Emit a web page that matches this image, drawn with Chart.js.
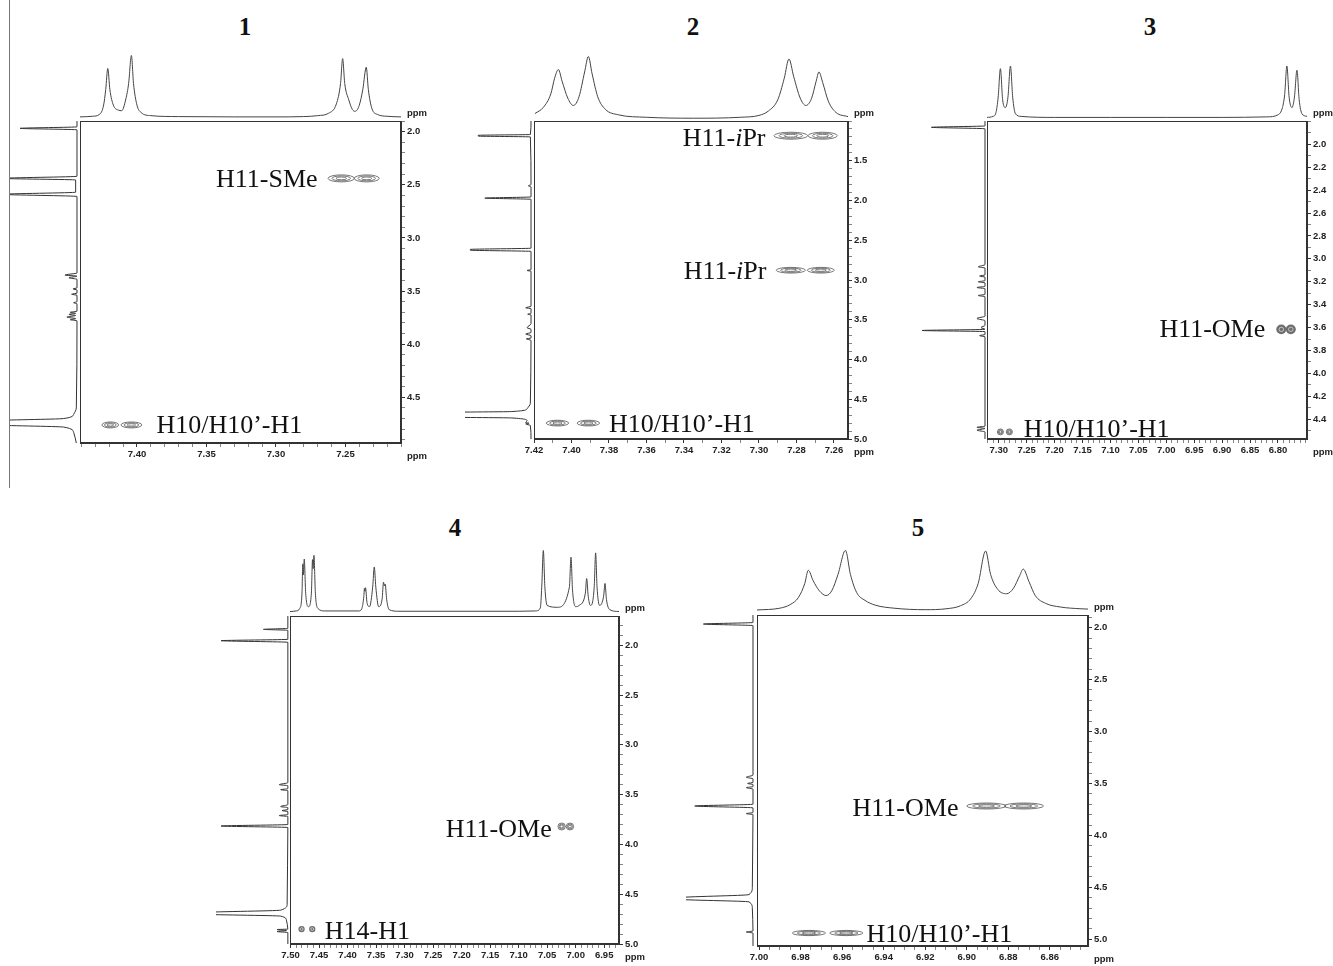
<!DOCTYPE html>
<html>
<head>
<meta charset="utf-8">
<script src="https://cdn.jsdelivr.net/npm/chart.js@4.4.1/dist/chart.umd.min.js"></script>
<style>
  body{margin:0;background:#fff;width:1333px;height:966px;overflow:hidden;position:relative}
  canvas{position:absolute}
  .num{position:absolute;font:bold 25px "Liberation Serif","Times New Roman",serif;color:#111;transform:translate(-50%,-50%)}
  #rule{position:absolute;left:9px;top:0;width:1px;height:488px;background:#777}
</style>
</head>
<body>
<div id="rule"></div>
<script>
const titles = ['1', '2', '3', '4', '5'];
const unit = 'ppm';

// ---- 1 ----
const p1X = [7.210, 7.441];
const p1Y = [1.90, 4.93];
const p1XLabels = [7.40, 7.35, 7.30, 7.25];
const p1YLabels = [2.0, 2.5, 3.0, 3.5, 4.0, 4.5];
const p1Minor = [0.01, 0.1];
const p1Top = [[7.441,0.01],[7.432,0.02],[7.427,0.05],[7.424,0.2],[7.4225,0.45],[7.421,0.79],[7.4195,0.45],[7.417,0.2],[7.4135,0.12],[7.411,0.11],[7.408,0.3],[7.406,0.55],[7.404,1.0],[7.4025,0.55],[7.400,0.2],[7.397,0.08],[7.39,0.03],[7.37,0.015],[7.33,0.01],[7.30,0.01],[7.28,0.015],[7.27,0.03],[7.262,0.07],[7.2565,0.22],[7.2535,0.55],[7.252,0.95],[7.2505,0.55],[7.2475,0.28],[7.245,0.13],[7.243,0.1],[7.240,0.2],[7.2375,0.45],[7.235,0.81],[7.2335,0.45],[7.231,0.15],[7.227,0.05],[7.22,0.02],[7.21,0.01]];
const p1Left = [[1.90,0],[1.955,0],[1.969,0.85],[1.983,0],[2.42,0],[2.44,1.1],[2.455,0.02],[2.57,0.02],[2.59,1.1],[2.61,0],[3.33,0],[3.35,0.18],[3.36,0],[3.375,0.12],[3.39,0],[3.47,0],[3.48,0.06],[3.49,0],[3.52,0],[3.53,0.08],[3.54,0],[3.60,0],[3.61,0.05],[3.62,0],[3.69,0],[3.70,0.1],[3.71,0.02],[3.72,0.12],[3.73,0.02],[3.745,0.15],[3.76,0.02],[3.77,0.1],[3.78,0],[4.60,0.01],[4.66,0.05],[4.70,0.2],[4.72,1.2],[4.76,1.2],[4.78,0.2],[4.83,0.05],[4.93,0.01]];
const p1Cross = [[7.253,2.44,0.0095,0.033],[7.2347,2.44,0.009,0.033],[7.4192,4.76,0.006,0.028],[7.404,4.76,0.0075,0.028]];
const p1Notes = [['H11-SMe',7.270,2.44,'right'],['H10/H10’-H1',7.386,4.75,'left']];

// ---- 2 ----
const p2X = [7.2525, 7.420];
const p2Y = [1.0, 5.0];
const p2XLabels = [7.42, 7.40, 7.38, 7.36, 7.34, 7.32, 7.30, 7.28, 7.26];
const p2YLabels = [1.5, 2.0, 2.5, 3.0, 3.5, 4.0, 4.5, 5.0];
const p2Minor = [0.01, 0.1];
const p2Top = [[7.4195,0.08],[7.415,0.18],[7.411,0.4],[7.409,0.65],[7.407,0.79],[7.405,0.6],[7.402,0.33],[7.399,0.21],[7.396,0.35],[7.393,0.75],[7.391,1.0],[7.389,0.72],[7.386,0.35],[7.382,0.15],[7.375,0.06],[7.36,0.02],[7.335,0.005],[7.31,0.02],[7.30,0.05],[7.295,0.12],[7.29,0.3],[7.2865,0.65],[7.284,0.96],[7.2815,0.68],[7.278,0.33],[7.275,0.21],[7.272,0.32],[7.2695,0.6],[7.268,0.75],[7.266,0.58],[7.263,0.28],[7.259,0.1],[7.2525,0.03]];
const p2Left = [[1.0,0],[1.17,0.01],[1.18,0.8],[1.19,0.8],[1.2,0.01],[1.80,0],[1.815,0.04],[1.83,0],[1.955,0],[1.97,0.7],[1.985,0],[2.60,0],[2.615,0.92],[2.625,0.92],[2.64,0],[2.87,0],[2.88,0.06],[2.89,0],[3.33,0],[3.35,0.08],[3.36,0],[3.42,0],[3.43,0.05],[3.44,0],[3.55,0],[3.6,0.06],[3.62,0],[3.66,0],[3.68,0.08],[3.70,0],[3.73,0],[3.74,0.07],[3.76,0],[4.55,0.01],[4.62,0.06],[4.655,0.3],[4.665,1.3],[4.725,1.3],[4.735,0.3],[4.77,0.06],[4.795,0.08],[4.80,0.03],[4.81,0.08],[4.83,0.01],[5.0,0]];
const p2Cross = [[7.283,1.185,0.009,0.044],[7.266,1.185,0.0078,0.044],[7.283,2.877,0.0078,0.036],[7.267,2.877,0.0072,0.036],[7.4075,4.80,0.006,0.036],[7.391,4.80,0.006,0.036]];
const p2Notes = [['H11-*i*Pr',7.2965,1.198,'right'],['H11-*i*Pr',7.296,2.877,'right'],['H10/H10’-H1',7.380,4.80,'left']];

// ---- 3 ----
const p3X = [6.748, 7.321];
const p3Y = [1.797, 4.572];
const p3XLabels = [7.30, 7.25, 7.20, 7.15, 7.10, 7.05, 7.00, 6.95, 6.90, 6.85, 6.80];
const p3YLabels = [2.0, 2.2, 2.4, 2.6, 2.8, 3.0, 3.2, 3.4, 3.6, 3.8, 4.0, 4.2, 4.4];
const p3Minor = [0.01, 0.1];
const p3Top = [[7.321,0.01],[7.31,0.03],[7.305,0.1],[7.301,0.4],[7.297,0.95],[7.293,0.35],[7.288,0.2],[7.2835,0.4],[7.279,1.0],[7.275,0.4],[7.27,0.08],[7.26,0.03],[7.2,0.01],[7.1,0.01],[7.0,0.01],[6.9,0.01],[6.82,0.02],[6.80,0.06],[6.792,0.2],[6.788,0.45],[6.784,1.0],[6.780,0.4],[6.775,0.2],[6.7705,0.4],[6.766,0.92],[6.762,0.35],[6.757,0.08],[6.748,0.03]];
const p3Left = [[1.797,0],[1.84,0],[1.852,0.8],[1.865,0],[3.05,0],[3.07,0.1],[3.08,0],[3.14,0],[3.15,0.08],[3.16,0],[3.19,0],[3.20,0.1],[3.21,0],[3.24,0],[3.25,0.12],[3.26,0],[3.31,0],[3.32,0.1],[3.33,0],[3.50,0],[3.52,0.12],[3.54,0],[3.58,0],[3.60,0.06],[3.615,0],[3.625,0.94],[3.635,0],[3.66,0],[3.67,0.08],[3.68,0],[4.46,0],[4.47,0.12],[4.48,0],[4.495,0.12],[4.51,0],[4.572,0]];
const p3Cross = [[7.297,4.51,0.0055,0.026],[7.281,4.51,0.0055,0.026],[6.794,3.615,0.009,0.042],[6.777,3.615,0.009,0.042]];
const p3Notes = [['H11-OMe',6.8227,3.60,'right'],['H10/H10’-H1',7.2553,4.48,'left']];

// ---- 4 ----
const p4X = [6.924, 7.501];
const p4Y = [1.706, 5.0];
const p4XLabels = [7.50, 7.45, 7.40, 7.35, 7.30, 7.25, 7.20, 7.15, 7.10, 7.05, 7.00, 6.95];
const p4YLabels = [2.0, 2.5, 3.0, 3.5, 4.0, 4.5, 5.0];
const p4Minor = [0.01, 0.1];
const p4Top = [[7.501,0.0],[7.49,0.01],[7.484,0.05],[7.480,0.3],[7.4785,0.78],[7.4775,0.6],[7.476,0.86],[7.4735,0.3],[7.4685,0.08],[7.4635,0.3],[7.4615,0.85],[7.4605,0.7],[7.459,0.92],[7.4565,0.3],[7.452,0.05],[7.44,0.01],[7.38,0.01],[7.375,0.05],[7.3715,0.25],[7.3705,0.38],[7.3695,0.33],[7.3685,0.39],[7.366,0.15],[7.3615,0.08],[7.356,0.4],[7.3532,0.73],[7.3505,0.4],[7.3455,0.08],[7.3395,0.2],[7.337,0.48],[7.3355,0.42],[7.334,0.45],[7.3315,0.2],[7.327,0.03],[7.31,0.005],[7.1,0.005],[7.07,0.01],[7.062,0.06],[7.0595,0.4],[7.0567,1.0],[7.054,0.4],[7.050,0.1],[7.032,0.07],[7.011,0.4],[7.0082,0.89],[7.0055,0.35],[7.0,0.08],[6.994,0.1],[6.983,0.3],[6.9807,0.54],[6.978,0.25],[6.974,0.1],[6.9675,0.4],[6.965,0.96],[6.9625,0.4],[6.958,0.1],[6.951,0.25],[6.9485,0.46],[6.946,0.2],[6.940,0.03],[6.924,0.0]];
const p4Left = [[1.706,0],[1.83,0],[1.84,0.34],[1.85,0],[1.94,0],[1.954,0.93],[1.97,0],[3.38,0],[3.40,0.12],[3.41,0],[3.44,0],[3.45,0.1],[3.46,0],[3.60,0],[3.62,0.1],[3.63,0],[3.65,0],[3.66,0.08],[3.67,0],[3.70,0],[3.71,0.12],[3.72,0],[3.80,0],[3.815,0.93],[3.83,0],[4.60,0.01],[4.66,0.1],[4.685,1.2],[4.70,1.2],[4.72,0.1],[4.76,0.02],[4.85,0],[4.855,0.15],[4.865,0.02],[4.875,0.15],[4.885,0],[5.0,0]];
const p4Cross = [[7.0246,3.82,0.0065,0.035],[7.010,3.82,0.0065,0.035],[7.4807,4.85,0.0055,0.032],[7.462,4.85,0.0055,0.032]];
const p4Notes = [['H11-OMe',7.042,3.837,'right'],['H14-H1',7.440,4.86,'left']];

// ---- 5 ----
const p5X = [6.8416, 7.001];
const p5Y = [1.878, 5.065];
const p5XLabels = [7.00, 6.98, 6.96, 6.94, 6.92, 6.90, 6.88, 6.86];
const p5YLabels = [2.0, 2.5, 3.0, 3.5, 4.0, 4.5, 5.0];
const p5Minor = [0.005, 0.1];
const p5Top = [[7.001,0.01],[6.99,0.04],[6.985,0.1],[6.981,0.22],[6.978,0.45],[6.9763,0.67],[6.974,0.5],[6.971,0.33],[6.9677,0.25],[6.965,0.33],[6.962,0.6],[6.9584,1.0],[6.956,0.6],[6.953,0.3],[6.949,0.17],[6.944,0.09],[6.935,0.04],[6.92,0.015],[6.91,0.03],[6.903,0.08],[6.898,0.2],[6.8945,0.45],[6.8909,0.99],[6.8885,0.6],[6.885,0.35],[6.8808,0.28],[6.8775,0.37],[6.8745,0.58],[6.8728,0.69],[6.870,0.48],[6.867,0.25],[6.862,0.12],[6.855,0.06],[6.845,0.03],[6.8416,0.025]];
const p5Left = [[1.878,0],[1.95,0],[1.965,0.74],[1.98,0],[3.42,0],[3.44,0.1],[3.455,0],[3.49,0],[3.50,0.08],[3.51,0],[3.53,0],[3.54,0.1],[3.555,0],[3.70,0],[3.717,0.87],[3.735,0],[3.78,0],[3.79,0.1],[3.80,0],[4.50,0.01],[4.57,0.06],[4.60,1.1],[4.615,1.1],[4.64,0.06],[4.70,0.01],[4.92,0],[4.93,0.1],[4.94,0],[5.065,0]];
const p5Cross = [[6.8905,3.717,0.0095,0.029],[6.8725,3.717,0.0095,0.029],[6.976,4.94,0.008,0.025],[6.958,4.94,0.008,0.025]];
const p5Notes = [['H11-OMe',6.904,3.724,'right'],['H10/H10’-H1',6.9483,4.943,'left']];

// page layout (pixels): plot box [x, y, w, h], top trace [peak top, baseline], left trace [far edge, baseline], title centre
const panels = [
  {title: titles[0], X: p1X, Y: p1Y, xl: p1XLabels, yl: p1YLabels, minor: p1Minor, top: p1Top, left: p1Left, cross: p1Cross, notes: p1Notes,
   box: [80, 121, 321, 322], band: [55, 117], side: [10, 77], at: [245, 27], filled: []},
  {title: titles[1], X: p2X, Y: p2Y, xl: p2XLabels, yl: p2YLabels, minor: p2Minor, top: p2Top, left: p2Left, cross: p2Cross, notes: p2Notes,
   box: [534, 121, 314, 318], band: [56, 118], side: [465, 531], at: [693, 27], filled: []},
  {title: titles[2], X: p3X, Y: p3Y, xl: p3XLabels, yl: p3YLabels, minor: p3Minor, top: p3Top, left: p3Left, cross: p3Cross, notes: p3Notes,
   box: [987, 121, 320, 318], band: [66, 118], side: [918, 985], at: [1150, 27], filled: [2, 3]},
  {title: titles[3], X: p4X, Y: p4Y, xl: p4XLabels, yl: p4YLabels, minor: p4Minor, top: p4Top, left: p4Left, cross: p4Cross, notes: p4Notes,
   box: [290, 616, 329, 328], band: [550, 611], side: [216, 288], at: [455, 528], filled: [2, 3]},
  {title: titles[4], X: p5X, Y: p5Y, xl: p5XLabels, yl: p5YLabels, minor: p5Minor, top: p5Top, left: p5Left, cross: p5Cross, notes: p5Notes,
   box: [757, 615, 331, 331], band: [550, 610], side: [686, 753], at: [918, 528], filled: []}
];

const INK = '#333';
const TICKFONT = {family: '"Liberation Sans", Arial, sans-serif', size: 9.5, weight: 'bold'};

function makeCanvas(x, y, w, h) {
  const c = document.createElement('canvas');
  c.width = Math.round(w); c.height = Math.round(h);
  c.style.left = Math.round(x) + 'px'; c.style.top = Math.round(y) + 'px';
  document.body.appendChild(c);
  return c;
}

function tickList(range, step, labels) {
  const out = [];
  const i0 = Math.ceil(range[0] / step - 1e-6), i1 = Math.floor(range[1] / step + 1e-6);
  for (let i = i0; i <= i1; i++) {
    const v = +(i * step).toFixed(4);
    out.push({value: v, major: labels.some(l => Math.abs(l - v) < 1e-6)});
  }
  return out;
}

function axis(range, step, labels, pos, digits) {
  return {
    type: 'linear', position: pos, reverse: true, bounds: 'data',
    min: range[0], max: range[1],
    afterBuildTicks: s => { s.ticks = tickList(range, step, labels); },
    afterFit: s => { if (pos === 'bottom') s.height = 22; else s.width = 40; },
    ticks: {
      autoSkip: false, maxRotation: 0, minRotation: 0, padding: 2,
      color: '#222', font: TICKFONT,
      callback: (v, i, t) => (t[i] && t[i].major) ? v.toFixed(digits) : ''
    },
    grid: {
      drawOnChartArea: false, tickLength: 4, tickColor: INK,
      tickWidth: c => (c.tick && c.tick.major) ? 1 : 0.6
    },
    border: {display: true, color: INK, width: 1}
  };
}

function drawNotes(ctx, notes, x, y) {
  notes.forEach(n => {
    const parts = n[0].split('*');
    const fonts = parts.map((t, k) => (k % 2 ? 'italic ' : '') + '26px "Liberation Serif", "Times New Roman", serif');
    const widths = parts.map((t, k) => { ctx.font = fonts[k]; return ctx.measureText(t).width; });
    const total = widths.reduce((a, b) => a + b, 0);
    let px = x.getPixelForValue(n[1]);
    const py = y.getPixelForValue(n[2]) + 9;
    if (n[3] === 'right') px -= total;
    ctx.fillStyle = '#111';
    ctx.textAlign = 'left';
    ctx.textBaseline = 'alphabetic';
    parts.forEach((t, k) => { ctx.font = fonts[k]; ctx.fillText(t, px, py); px += widths[k]; });
  });
}

panels.forEach(P => {
  const [bx, by, bw, bh] = P.box;

  // title
  const t = document.createElement('div');
  t.className = 'num'; t.textContent = P.title;
  t.style.left = P.at[0] + 'px'; t.style.top = P.at[1] + 'px';
  document.body.appendChild(t);

  // top 1D trace
  const th = P.band[1] - P.band[0];
  new Chart(makeCanvas(bx, P.band[0] - 0.04 * th, bw, 1.08 * th), {
    type: 'line',
    data: {datasets: [{data: P.top.map(p => ({x: p[0], y: p[1]})), borderColor: '#444', borderWidth: 1,
      pointRadius: 0, cubicInterpolationMode: 'monotone'}]},
    options: {
      responsive: false, animation: false, devicePixelRatio: 1,
      plugins: {legend: {display: false}, tooltip: {enabled: false}},
      scales: {
        x: {type: 'linear', display: false, reverse: true, bounds: 'data', min: P.X[0], max: P.X[1]},
        y: {type: 'linear', display: false, min: -0.04, max: 1.04}
      }
    }
  });

  // left 1D trace
  const sw = P.side[1] - P.side[0];
  new Chart(makeCanvas(P.side[0], by, 1.03 * sw, bh), {
    type: 'line',
    data: {datasets: [{data: P.left.map(p => ({x: p[1], y: p[0]})), borderColor: '#333', borderWidth: 1,
      pointRadius: 0, cubicInterpolationMode: 'monotone'}]},
    options: {
      indexAxis: 'y',
      responsive: false, animation: false, devicePixelRatio: 1,
      plugins: {legend: {display: false}, tooltip: {enabled: false}},
      scales: {
        x: {type: 'linear', display: false, reverse: true, bounds: 'data', min: -0.03, max: 1},
        y: {type: 'linear', display: false, reverse: true, bounds: 'data', min: P.Y[0], max: P.Y[1]}
      }
    }
  });

  // 2D map
  const padL = 14, padT = 16;
  new Chart(makeCanvas(bx - padL, by - padT, padL + bw + 40, padT + bh + 22), {
    type: 'scatter',
    data: {datasets: [{data: P.cross.map(c => ({x: c[0], y: c[1]})), pointRadius: 0}]},
    options: {
      responsive: false, animation: false, devicePixelRatio: 1,
      layout: {padding: {left: padL, top: padT, right: 0, bottom: 0}},
      plugins: {legend: {display: false}, tooltip: {enabled: false}},
      scales: {
        x: axis(P.X, P.minor[0], P.xl, 'bottom', 2),
        y: axis(P.Y, P.minor[1], P.yl, 'right', 1)
      }
    },
    plugins: [{
      id: 'nmr',
      afterDatasetsDraw(chart) {
        const {ctx, scales: {x, y}} = chart;
        const meta = chart.getDatasetMeta(0);
        ctx.save();
        P.cross.forEach((c, i) => {
          const el = meta.data[i];
          const rx = Math.abs(x.getPixelForValue(c[0] + c[2]) - el.x);
          const ry = Math.abs(y.getPixelForValue(c[1] + c[3]) - el.y);
          if (P.filled.includes(i)) {
            ctx.fillStyle = '#6e6e6e';
            ctx.beginPath(); ctx.ellipse(el.x, el.y, rx, ry, 0, 0, Math.PI * 2); ctx.fill();
            ctx.strokeStyle = '#d8d8d8'; ctx.lineWidth = 0.8;
            ctx.beginPath(); ctx.ellipse(el.x, el.y, rx * 0.45, ry * 0.45, 0, 0, Math.PI * 2); ctx.stroke();
          } else {
            ctx.strokeStyle = '#555'; ctx.lineWidth = 0.8;
            [1, 0.7, 0.4].forEach(s => {
              ctx.beginPath(); ctx.ellipse(el.x, el.y, rx * s, ry * s, 0, 0, Math.PI * 2); ctx.stroke();
            });
          }
        });
        drawNotes(ctx, P.notes, x, y);
        ctx.restore();
      },
      afterDraw(chart) {
        const {ctx, chartArea: a} = chart;
        ctx.save();
        ctx.strokeStyle = INK; ctx.lineWidth = 1;
        ctx.strokeRect(a.left + 0.5, a.top + 0.5, a.width - 1, a.height - 1);
        ctx.fillStyle = '#222';
        ctx.font = 'bold 9.5px "Liberation Sans", Arial, sans-serif';
        ctx.textAlign = 'center'; ctx.textBaseline = 'middle';
        ctx.fillText(unit, a.right + 16, a.top - 8);
        ctx.fillText(unit, a.right + 16, a.bottom + 13);
        ctx.restore();
      }
    }]
  });
});
</script>
</body>
</html>
